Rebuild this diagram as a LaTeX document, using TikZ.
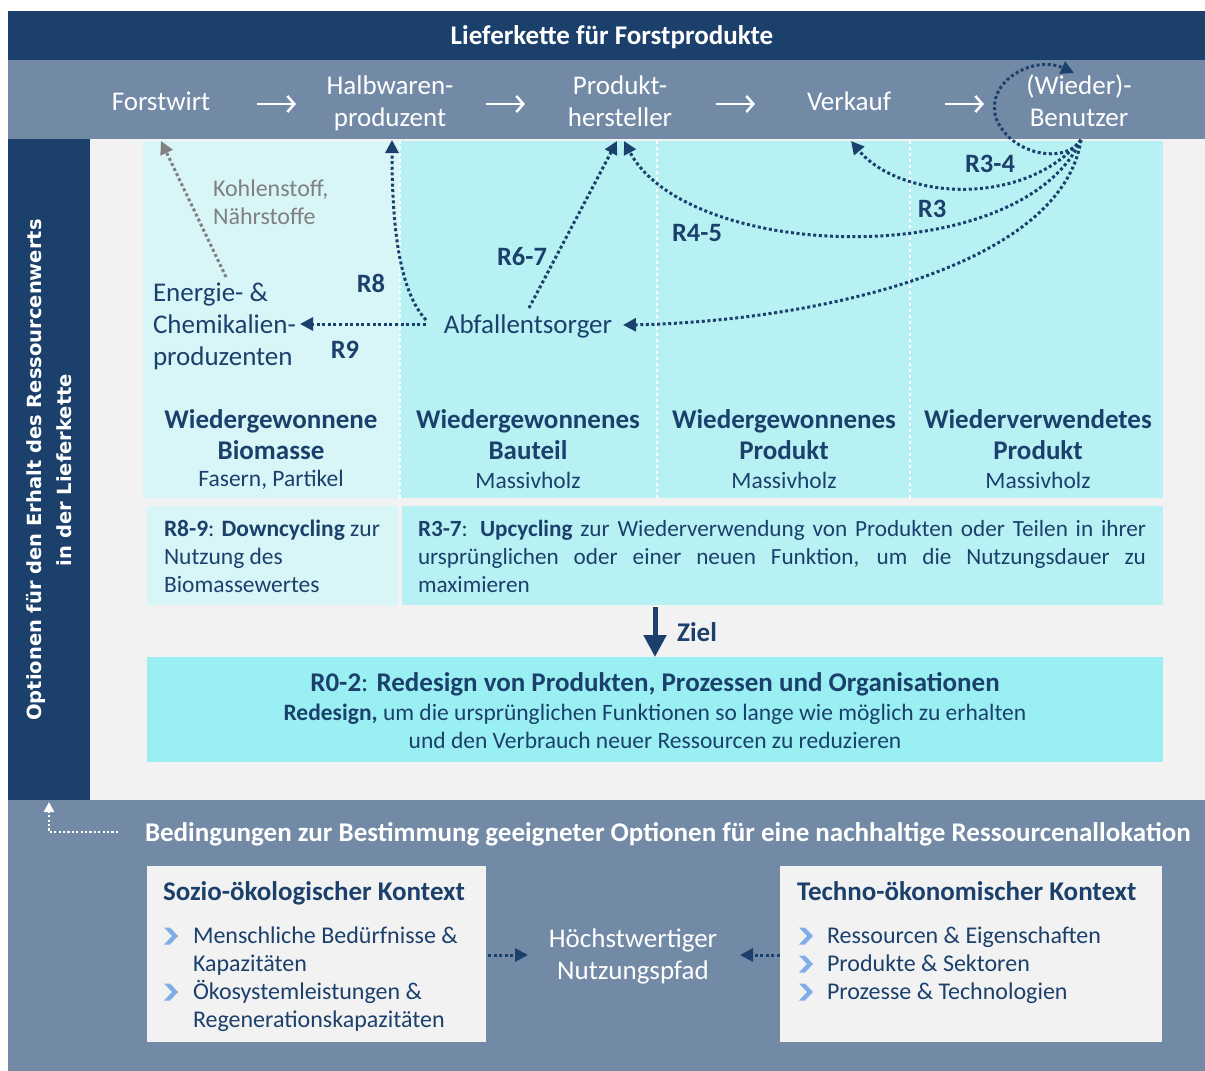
\documentclass[tikz,border=0pt]{standalone}
\usepackage{fontspec}
\setmainfont{Carlito}
\newfontfamily\vertfont{DejaVu Sans}
\usetikzlibrary{arrows.meta}
\definecolor{dblue}{RGB}{27,64,108}
\definecolor{gblue}{RGB}{114,138,166}
\definecolor{lgray}{RGB}{242,242,242}
\definecolor{cyanA}{RGB}{216,245,247}
\definecolor{cyanB}{RGB}{183,241,243}
\definecolor{cyanC}{RGB}{154,239,243}
\definecolor{chev}{RGB}{125,175,230}
\definecolor{txtgray}{RGB}{128,128,128}
\newcommand{\fsA}{\fontsize{27}{32}\selectfont}
\newcommand{\fsT}{\fontsize{27}{31}\selectfont}
\newcommand{\fsB}{\fontsize{23.5}{28}\selectfont}
\newcommand{\fsK}{\fontsize{24}{28}\selectfont}
\newcommand{\fsC}{\fontsize{24}{28}\selectfont}
\newcommand{\fsD}{\fontsize{23.5}{28}\selectfont}
\newcommand{\fsR}{\fontsize{26.5}{30}\selectfont}
\begin{document}
\begin{tikzpicture}[x=1pt,y=-1pt,
  every node/.style={inner sep=0pt,outer sep=0pt,text=dblue},
  dotline/.style={draw=dblue,line width=3pt,dash pattern=on 3pt off 2.6pt},
  tipA/.style={-{Triangle[length=13pt,width=13pt]}},
  colsep/.style={draw=white,line width=2.5pt,dash pattern=on 3pt off 3pt},
  chainarr/.style={draw=white,line width=2.5pt,-{Straight Barb[length=7pt,width=16pt,line width=2.5pt]}},
  lbl/.style={font=\fsR\bfseries},
  chevron/.pic={\fill[chev] (-7,-8.5) -- (-1,-8.5) -- (7,0) -- (-1,8.5) -- (-7,8.5) -- (1,0) -- cycle;}
]
\useasboundingbox (0,0) rectangle (1205,1071);
% backgrounds
\fill[white] (0,0) rectangle (1205,1071);
\fill[dblue] (8,11) rectangle (1205,60);
\fill[gblue] (8,60) rectangle (1205,139);
\fill[dblue] (8,139) rectangle (90,800);
\fill[lgray] (90,139) rectangle (1205,800);
\fill[gblue] (8,800) rectangle (1205,1071);
% panels
\fill[cyanA] (143,141) rectangle (400,498);
\fill[cyanB] (400,141) rectangle (1163,498);
\draw[colsep] (400,141) -- (400,498);
\draw[colsep] (657,141) -- (657,498);
\draw[colsep] (910,141) -- (910,498);
\fill[cyanA] (147,506) rectangle (398,605);
\fill[cyanB] (402,506) rectangle (1163,605);
\fill[cyanC] (147,657) rectangle (1163,762);
\fill[lgray] (147,866) rectangle (486,1042);
\fill[lgray] (780,866) rectangle (1162,1042);

% top title
\node[font=\fsA\bfseries,text=white] (title) at (612,37) {Lieferkette für Forstprodukte};
% supply chain
\node[font=\fsA,text=white,align=center] (forst) at (161,101) {Forstwirt};
\node[font=\fsA,text=white,align=center] (halb) at (390,103) {Halbwaren-\\produzent};
\node[font=\fsA,text=white,align=center] (prod) at (620,101) {Produkt-\\hersteller};
\node[font=\fsA,text=white,align=center] (verk) at (849,101) {Verkauf};
\node[font=\fsA,text=white,align=center] (benu) at (1079,101) {(Wieder)-\\Benutzer};
\draw[chainarr] (257,104) -- (296,104);
\draw[chainarr] (486,104) -- (525,104);
\draw[chainarr] (716,104) -- (755,104);
\draw[chainarr] (945,104) -- (984,104);

% vertical text
\node[rotate=90,font=\vertfont\bfseries\fontsize{19.5}{30}\selectfont,text=white,align=center] (opt) at (49,470)
  {Optionen für den Erhalt des Ressourcenwerts\\in der Lieferkette};

% inner flow nodes
\node[font=\fsA,align=left,anchor=west] (energie) at (153,326) {Energie- \&\\Chemikalien-\\produzenten};
\node[font=\fsA] (abfall) at (528,326) {Abfallentsorger};
\node[font=\fsK,align=left,anchor=west,text=txtgray] (kohl) at (213,202) {Kohlenstoff,\\Nährstoffe};

\coordinate (u0) at (1081,140);
\coordinate (hb) at (392,140);
\coordinate (pb) at (617,141);
\coordinate (pb2) at (624,141);
\coordinate (vb) at (851,141);
\coordinate (fb) at (161,141);

\draw[txtgray,line width=3pt,dash pattern=on 3pt off 2.6pt,tipA] (226,277) -- (fb);
\draw[dotline,tipA] (426,324) -- (300,324);
\draw[dotline,tipA] (426,320) .. controls (400,292) and (392,230) .. (hb);
\draw[dotline,tipA] (529,308) -- (pb);
\draw[dotline,tipA] (u0) .. controls (1060,272) and (800,322) .. (623,325);
\draw[dotline,tipA] (u0) .. controls (1020,272) and (688,262) .. (pb2);
\draw[dotline,tipA] (u0) .. controls (1024,208) and (900,200) .. (vb);
\draw[dotline,tipA] (u0) .. controls (1065,165) and (1010,155) .. (996,118) .. controls (985,80) and (1035,55) .. (1074,73);

\node[lbl] (r34) at (990,164) {R3-4};
\node[lbl] (r3) at (932,209) {R3};
\node[lbl] (r45) at (697,233) {R4-5};
\node[lbl] (r67) at (522,257) {R6-7};
\node[lbl] (r8) at (371,283) {R8};
\node[lbl] (r9) at (345,350) {R9};

% column headings
\node[font=\fsT\bfseries,align=center] (h1) at (271,434.5) {Wiedergewonnene\\Biomasse};
\node[font=\fsB] (s1) at (271,480) {Fasern, Partikel};
\node[font=\fsT\bfseries,align=center] (h2) at (528,434.5) {Wiedergewonnenes\\Bauteil};
\node[font=\fsB] (s2) at (528,480) {Massivholz};
\node[font=\fsT\bfseries,align=center] (h3) at (784,434.5) {Wiedergewonnenes\\Produkt};
\node[font=\fsB] (s3) at (784,480) {Massivholz};
\node[font=\fsT\bfseries,align=center] (h4) at (1038,434.5) {Wiederverwendetes\\Produkt};
\node[font=\fsB] (s4) at (1038,480) {Massivholz};

% bottom row of top section
\node[font=\fsB,align=left,anchor=west] (down) at (164,556)
  {\textbf{R8-9}: \textbf{Downcycling} zur\\Nutzung des\\Biomassewertes};
\node[font=\fontsize{23.2}{28}\selectfont,anchor=west] (up) at (418,556)
  {\parbox{728pt}{\spaceskip=0.226em plus 0.5em minus 0.06em
   \textbf{R3-7}: \textbf{Upcycling} zur Wiederverwendung von Produkten oder Teilen in ihrer\linebreak
   ursprünglichen oder einer neuen Funktion, um die Nutzungsdauer zu\linebreak
   maximieren}};

% Ziel arrow
\coordinate (z0) at (655,607);
\coordinate (z1) at (655,657);
\draw[dblue,line width=5pt,-{Triangle[length=22pt,width=22pt]}] (z0) -- (z1);
\node[font=\fontsize{27}{30}\selectfont\bfseries] (ziel) at (697,632) {Ziel};

% R0-2 box
\node[font=\fontsize{27}{30}\selectfont,anchor=base] (r02) at (655,691)
  {\textbf{R0-2}: \textbf{Redesign von Produkten, Prozessen und Organisationen}};
\node[font=\fsD,anchor=base] (r02a) at (655,720)
  {\textbf{Redesign,} um die ursprünglichen Funktionen so lange wie möglich zu erhalten};
\node[font=\fsD,anchor=base] (r02b) at (655,748)
  {und den Verbrauch neuer Ressourcen zu reduzieren};

% bottom section
\node[font=\fontsize{27}{30}\selectfont\bfseries,text=white,anchor=base west] (bed) at (145,841)
  {Bedingungen zur Bestimmung geeigneter Optionen für eine nachhaltige Ressourcenallokation};
\coordinate (w0) at (118,832);
\coordinate (w1) at (49,832);
\coordinate (w2) at (49,802);
\draw[white,line width=2.2pt,dash pattern=on 2.2pt off 2.2pt,-{Triangle[length=10pt,width=10pt]}] (w0) -- (w1) -- (w2);

\node[font=\fsA\bfseries,anchor=base west] (soz) at (163,900) {Sozio-ökologischer Kontext};
\node[font=\fsC,align=left,anchor=west] (sozl) at (193,979)
  {Menschliche Bedürfnisse \&\\Kapazitäten\\Ökosystemleistungen \&\\Regenerationskapazitäten};
\pic at (171,936) {chevron};
\pic at (171,992) {chevron};

\node[font=\fsA\bfseries,anchor=base west] (tech) at (797,900) {Techno-ökonomischer Kontext};
\node[font=\fsC,align=left,anchor=west] (techl) at (827,965)
  {Ressourcen \& Eigenschaften\\Produkte \& Sektoren\\Prozesse \& Technologien};
\pic at (806,936) {chevron};
\pic at (806,964) {chevron};
\pic at (806,992) {chevron};

\node[font=\fsA,text=white,align=center] (hoech) at (633,956) {Höchstwertiger\\Nutzungspfad};
\coordinate (la) at (488,955);
\coordinate (lb) at (528,955);
\coordinate (ra) at (780,955);
\coordinate (rb) at (740,955);
\draw[dotline,tipA] (la) -- (lb);
\draw[dotline,tipA] (ra) -- (rb);
\end{tikzpicture}
\end{document}
